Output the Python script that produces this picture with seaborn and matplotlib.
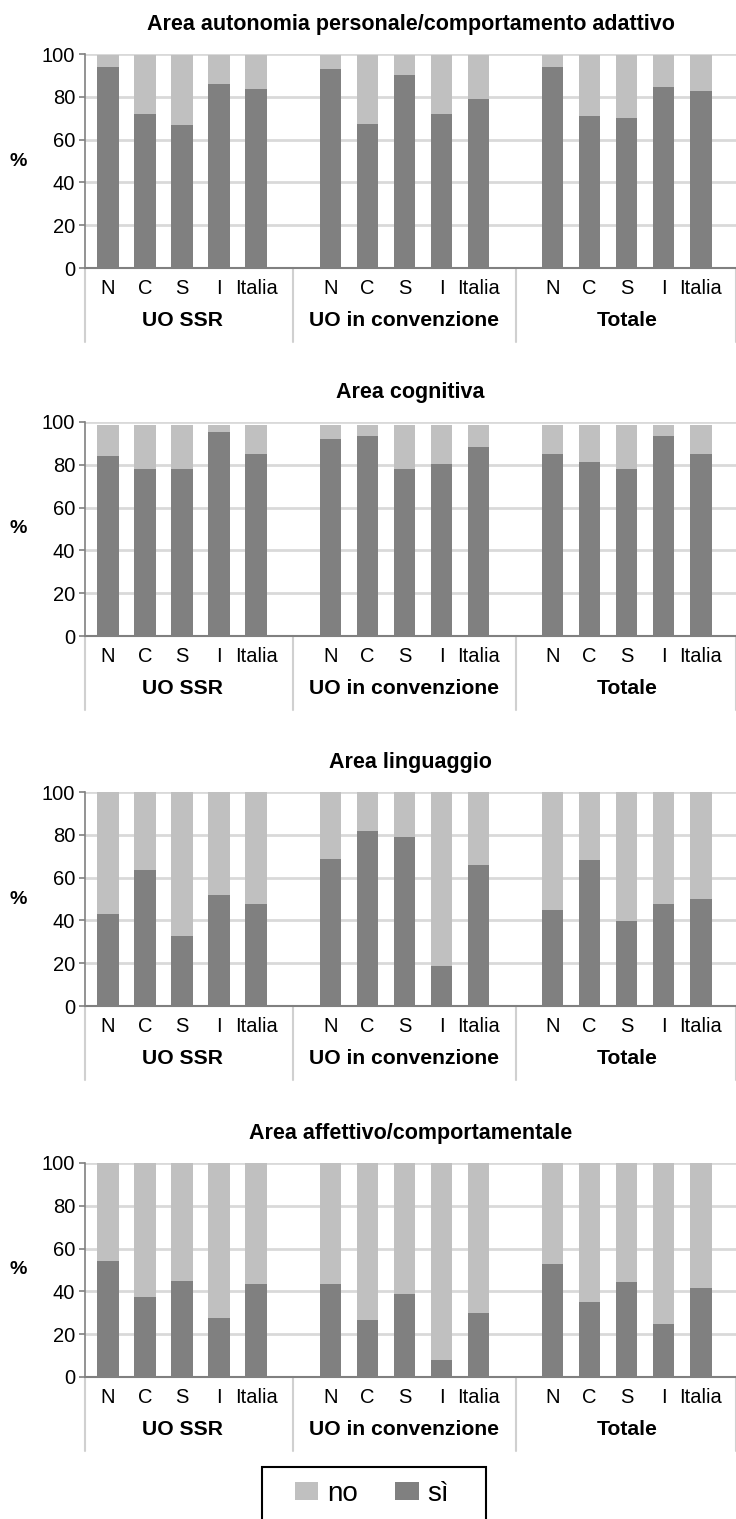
import numpy as np
import pandas as pd
import matplotlib
matplotlib.use("Agg")
import matplotlib.pyplot as plt
from matplotlib.patches import Patch, Rectangle
import seaborn as sns

sns.set_theme(style="white")
plt.rcParams['font.family'] = ['Liberation Sans', 'DejaVu Sans']
plt.rcParams['text.color'] = 'black'
plt.rcParams['xtick.color'] = 'black'
plt.rcParams['ytick.color'] = 'black'

# categorie
regions = ["N", "C", "S", "I", "Italia"]
groups = ["UO SSR", "UO in convenzione", "Totale"]
titles = ["Area autonomia personale/comportamento adattivo",
          "Area cognitiva",
          "Area linguaggio",
          "Area affettivo/comportamentale"]

# valori % (UO SSR, UO in convenzione, Totale)
si_autonomia = [94, 72, 67, 86, 83.5, 93, 67.5, 90, 72, 79, 94, 71, 70, 84.5, 82.5]
no_autonomia = [5.5, 27.5, 32.5, 13.5, 16, 6.5, 32, 9.5, 27.5, 20.5, 5.5, 28.5, 29.5, 15, 17]
si_cognitiva = [84, 78, 78, 95.5, 85, 92, 93.5, 78, 80.5, 88.5, 85, 81.5, 78, 93.5, 85]
no_cognitiva = [14.5, 20.5, 20.5, 3, 13.5, 6.5, 5, 20.5, 18, 10, 13.5, 17, 20.5, 5, 13.5]
si_linguaggio = [43, 63.5, 32.5, 52, 47.5, 68.5, 82, 79, 18.5, 66, 45, 68, 39.5, 47.5, 50]
no_linguaggio = [57, 36.5, 67.5, 48, 52.5, 31.5, 18, 21, 81.5, 34, 55, 32, 60.5, 52.5, 50]
si_affettivo = [54, 37.5, 45, 27.5, 43.5, 43.5, 26.5, 39, 8, 30, 53, 35, 44.5, 25, 41.5]
no_affettivo = [46, 62.5, 55, 72.5, 56.5, 56.5, 73.5, 61, 92, 70, 47, 65, 55.5, 75, 58.5]

panels = [(si_autonomia, no_autonomia), (si_cognitiva, no_cognitiva),
          (si_linguaggio, no_linguaggio), (si_affettivo, no_affettivo)]

C_SI = "#808080"
C_NO = "#c0c0c0"
C_GRID = "#d9d9d9"

# posizioni: 5 barre per gruppo + uno spazio vuoto
xpos = [g * 6 + r for g in range(len(groups)) for r in range(len(regions))]
xlabels = regions * len(groups)

fig = plt.figure(figsize=(7.36, 15.19), dpi=100)
H = 1519.0
tops = [54, 422, 792, 1163]
ax_h = 214

for i, (si, no) in enumerate(panels):
    top = tops[i]
    ax = fig.add_axes([85 / 736, (H - top - ax_h) / H, 651 / 736, ax_h / H])
    df = pd.DataFrame({"x": xpos, "si": si, "tot": np.array(si) + np.array(no)})
    sns.barplot(data=df, x="x", y="tot", native_scale=True, color=C_NO,
                width=0.58, saturation=1, linewidth=0, errorbar=None, ax=ax)
    sns.barplot(data=df, x="x", y="si", native_scale=True, color=C_SI,
                width=0.58, saturation=1, linewidth=0, errorbar=None, ax=ax)

    ax.set_xlim(-0.62, 16.95)
    ax.set_ylim(0, 100)
    ax.set_yticks([0, 20, 40, 60, 80, 100])
    ax.yaxis.grid(True, color=C_GRID, lw=2)
    ax.set_axisbelow(True)
    ax.set_xticks(xpos)
    ax.set_xticklabels(xlabels, fontsize=14.5)
    ax.tick_params(axis="x", length=0, pad=8)
    ax.tick_params(axis="y", left=True, length=4, width=1.2, color="#808080",
                   pad=3, labelsize=14.5)
    ax.set_xlabel("")
    ax.set_ylabel("")
    for s in ["top", "right"]:
        ax.spines[s].set_visible(False)
    ax.spines["left"].set_color("#808080")
    ax.spines["left"].set_linewidth(1.2)
    ax.spines["bottom"].set_color("#808080")
    ax.spines["bottom"].set_linewidth(1.5)

    ax.set_title(titles[i], fontsize=15.5, fontweight="bold", pad=17)
    ax.text(-0.103, 0.5, "%", transform=ax.transAxes, fontsize=14,
            fontweight="bold", ha="center", va="center")

    trans = ax.get_xaxis_transform()
    for xs in [-0.62, 5, 11, 16.95]:
        ax.plot([xs, xs], [0, -0.345], color="#d0d0d0", lw=1.5,
                transform=trans, clip_on=False)
    for g, name in enumerate(groups):
        ax.text(g * 6 + 2, -0.245, name, transform=trans, ha="center",
                va="center", fontsize=15.2, fontweight="bold")

# legenda con cornice disegnata a parte
fig.patches.append(Rectangle((262 / 736, -0.01), 224 / 736, (H - 1467) / H + 0.01,
                             transform=fig.transFigure, facecolor="white",
                             edgecolor="black", lw=1.5))
handles = [Patch(facecolor=C_NO, edgecolor="none", label="no"),
           Patch(facecolor=C_SI, edgecolor="none", label="sì")]
leg = fig.legend(handles=handles, loc="center", bbox_to_anchor=(0.505, (H - 1494) / H),
                 ncol=2, fontsize=20, frameon=False,
                 handlelength=0.85, handleheight=0.6, handletextpad=0.3,
                 columnspacing=1.35, borderpad=0.2)

fig.savefig("out.png", dpi=100)
